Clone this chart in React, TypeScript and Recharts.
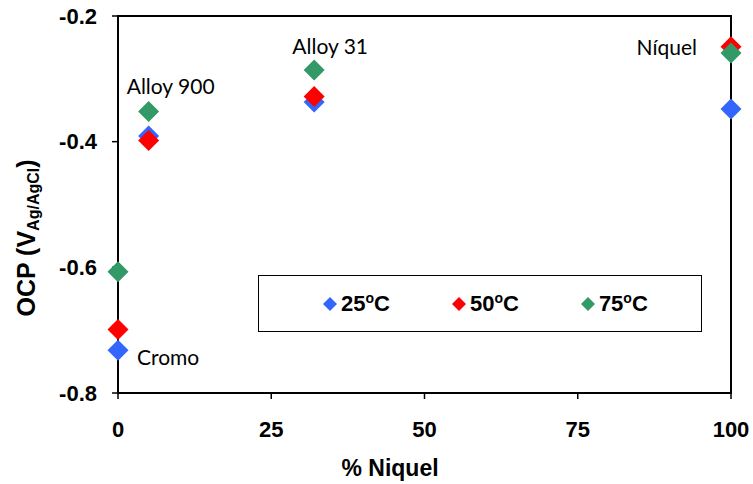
import React from 'react';
import {
  ScatterChart,
  Scatter,
  XAxis,
  YAxis,
  Legend,
  ReferenceArea,
  ReferenceDot,
} from 'recharts';

// ---- data ----
const nickelPct = [0, 5, 32, 100];
const ocp25 = [-0.732, -0.391, -0.337, -0.348];
const ocp50 = [-0.699, -0.398, -0.328, -0.249];
const ocp75 = [-0.607, -0.352, -0.286, -0.259];
const seriesNames = ['25ºC', '50ºC', '75ºC'];
const xTicks = [0, 25, 50, 75, 100];
const yTicks = [-0.8, -0.6, -0.4, -0.2];
const materialNames = ['Cromo', 'Alloy 900', 'Alloy 31', 'Níquel'];
// which series each material label is attached to (index into series list)
const labelSeries = [0, 2, 2, 1];

// ---- styles ----
const COLORS = ['#3366FF', '#FF0000', '#339966'];
const TICK_FONT = "'Liberation Sans', Arial, sans-serif";
const NOTE_FONT = "Lato, 'Open Sans', sans-serif";
const labelStyle = [
  { dx: 19, dy: 14.5, anchor: 'start' },
  { dx: 22, dy: -17.5, anchor: 'middle' },
  { dx: 16, dy: -16, anchor: 'middle' },
  { dx: -34, dy: 8, anchor: 'end' },
];

const allSeries = [ocp25, ocp50, ocp75];
const seriesData = allSeries.map((vals) =>
  nickelPct.map((x, i) => ({ x, y: vals[i] }))
);

const Diamond = (props: any) => {
  const { cx, cy, fill } = props;
  if (cx == null || cy == null) return null;
  const h = 10.5;
  return (
    <polygon
      points={`${cx},${cy - h} ${cx + h},${cy} ${cx},${cy + h} ${cx - h},${cy}`}
      fill={fill}
    />
  );
};

const noteShape = (text: string, dx: number, dy: number, anchor: string) => (props: any) => (
  <text
    x={props.cx + dx}
    y={props.cy + dy}
    textAnchor={anchor as any}
    fontFamily={NOTE_FONT}
    fontSize={21}
    fill="#000"
  >
    {text}
  </text>
);

const LegendBox = (props: any) => {
  const payload = props.payload || [];
  return (
    <div
      style={{
        width: 444,
        height: 57,
        boxSizing: 'border-box',
        border: '1.5px solid #000',
        background: '#fff',
        display: 'flex',
        alignItems: 'center',
        paddingLeft: 64,
        gap: 62,
      }}
    >
      {payload.map((p: any, i: number) => (
        <div key={i} style={{ display: 'flex', alignItems: 'center' }}>
          <svg width={14} height={14} style={{ display: 'block' }}>
            <polygon points="7,0 14,7 7,14 0,7" fill={p.color} />
          </svg>
          <span
            style={{
              marginLeft: 4,
              fontFamily: TICK_FONT,
              fontWeight: 'bold',
              fontSize: 22,
              color: '#000',
              lineHeight: '22px',
            }}
          >
            {String(p.value).replace('ºC', '')}
            <sup style={{ fontSize: 14, lineHeight: 0, verticalAlign: 8 }}>o</sup>C
          </span>
        </div>
      ))}
    </div>
  );
};

const YTitle = () => (
  <text
    x={35}
    y={238}
    transform="rotate(-90, 35, 238)"
    textAnchor="middle"
    fontFamily={TICK_FONT}
    fontWeight="bold"
    fontSize={25}
    fill="#000"
  >
    OCP (V
    <tspan fontSize={16} dy={4}>
      Ag/AgCl
    </tspan>
    <tspan fontSize={25} dy={-4}>
      )
    </tspan>
  </text>
);

const XTitle = () => (
  <text
    x={390}
    y={476}
    textAnchor="middle"
    fontFamily={TICK_FONT}
    fontWeight="bold"
    fontSize={23}
    fill="#000"
  >
    % Niquel
  </text>
);

export default function App() {
  return (
    <div style={{ position: 'absolute', left: 0, top: 0, width: 753, height: 484, background: '#fff' }}>
      <ScatterChart
        width={753}
        height={484}
        margin={{ top: 16, right: 22, bottom: 0, left: 0 }}
      >
        <XAxis
          type="number"
          dataKey="x"
          domain={[0, 100]}
          ticks={xTicks}
          height={91}
          axisLine={{ stroke: '#000', strokeWidth: 2 }}
          tickLine={{ stroke: '#000', strokeWidth: 1.5 }}
          tickSize={6}
          tickMargin={22}
          tick={{ fill: '#000', fontSize: 22, fontWeight: 'bold', fontFamily: TICK_FONT }}
          label={{ content: () => <XTitle /> }}
        />
        <YAxis
          type="number"
          dataKey="y"
          domain={[-0.8, -0.2]}
          ticks={yTicks}
          width={118}
          axisLine={{ stroke: '#000', strokeWidth: 2 }}
          tickLine={{ stroke: '#000', strokeWidth: 1.5 }}
          tickSize={6}
          tickMargin={15}
          tickFormatter={(v: number) => v.toFixed(1)}
          tick={{ fill: '#000', fontSize: 22, fontWeight: 'bold', fontFamily: TICK_FONT }}
          label={{ content: () => <YTitle /> }}
        />
        <ReferenceArea
          x1={0}
          x2={100}
          y1={-0.8}
          y2={-0.2}
          fill="none"
          fillOpacity={0}
          stroke="#000"
          strokeWidth={2}
        />
        <Legend
          layout="vertical"
          verticalAlign="middle"
          align="center"
          content={<LegendBox />}
          wrapperStyle={{ left: 258, top: 275, width: 444, height: 57 }}
        />
        {seriesData.map((d, i) => (
          <Scatter
            key={seriesNames[i]}
            name={seriesNames[i]}
            data={d}
            fill={COLORS[i]}
            shape={<Diamond />}
            isAnimationActive={false}
          />
        ))}
        {materialNames.map((name, i) => {
          const s = labelSeries[i];
          const st = labelStyle[i];
          return (
            <ReferenceDot
              key={name}
              x={nickelPct[i]}
              y={allSeries[s][i]}
              r={0}
              shape={noteShape(name, st.dx, st.dy, st.anchor)}
            />
          );
        })}
      </ScatterChart>
    </div>
  );
}
